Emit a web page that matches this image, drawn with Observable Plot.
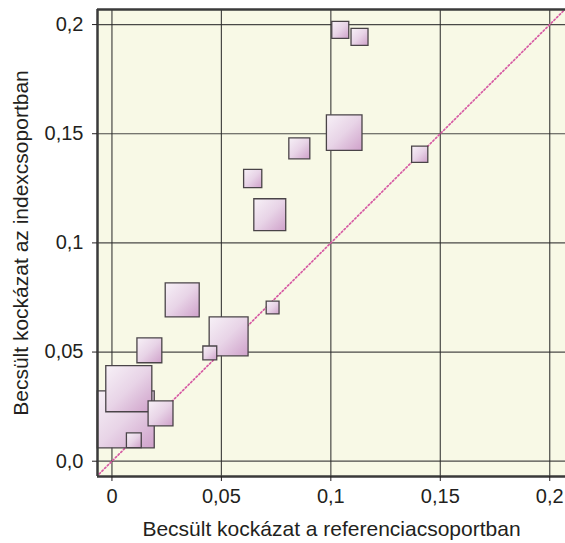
<!DOCTYPE html>
<html>
<head>
<meta charset="utf-8">
<script src="https://cdn.jsdelivr.net/npm/d3@7"></script>
<script src="https://cdn.jsdelivr.net/npm/@observablehq/plot@0.6"></script>
<style>
  html, body { margin: 0; padding: 0; background: #ffffff; }
  #chart svg { display: block; }
</style>
</head>
<body>
<div id="chart"></div>
<script>
// Estimated risk in the reference group (x) and index group (y), one value per study
const refRisk   = [0.0063, 0.0077, 0.0533, 0.1061, 0.0321, 0.0721, 0.0171, 0.0222, 0.0856, 0.0643, 0.1043, 0.1131, 0.1406, 0.0100, 0.0447, 0.0734];
const indexRisk = [0.0192, 0.0332, 0.0572, 0.1505, 0.0739, 0.1129, 0.0508, 0.0219, 0.1433, 0.1295, 0.1976, 0.1944, 0.1406, 0.0096, 0.0496, 0.0704];
// Study weights (%) -> square area
const weights   = [23.6, 15.4, 11.0, 9.2, 8.4, 7.4, 4.5, 4.5, 3.2, 2.4, 2.1, 2.1, 1.9, 1.6, 1.4, 1.2];

const xTickValues = [0, 0.05, 0.1, 0.15, 0.2];
const xTickLabels = ["0", "0,05", "0,1", "0,15", "0,2"];
const yTickValues = [0, 0.05, 0.1, 0.15, 0.2];
const yTickLabels = ["0,0", "0,05", "0,1", "0,15", "0,2"];

const xTitle = "Becsült kockázat a referenciacsoportban";
const yTitle = "Becsült kockázat az indexcsoportban";

const xDomain = [-0.0066, 0.2072];
const yDomain = [-0.0070, 0.2069];
const diagonal = [-0.0070, 0.2072]; // line of equality y = x

const studies = refRisk.map((x, i) => ({x, y: indexRisk[i], w: weights[i]}))
  .sort((a, b) => b.w - a.w);

const ink = "#231f20";

const chart = Plot.plot({
  width: 565,
  height: 543,
  marginLeft: 97,
  marginRight: 0,
  marginTop: 9,
  marginBottom: 67,
  style: {fontFamily: "'Liberation Sans', Arial, Helvetica, sans-serif", fontSize: "20px", color: ink, background: "#ffffff"},
  x: {domain: xDomain},
  y: {domain: yDomain},
  r: {type: "sqrt", domain: [0, 23.6], range: [0, 57 / Math.sqrt(Math.PI)]},
  marks: [
    Plot.frame({fill: "#f8f9e6", stroke: null}),
    Plot.gridX(xTickValues, {stroke: "#2a2a2a", strokeOpacity: 0.85, strokeWidth: 1.2}),
    Plot.gridY(yTickValues, {stroke: "#2a2a2a", strokeOpacity: 0.85, strokeWidth: 1.2}),
    Plot.line(diagonal, {x: d => d, y: d => d, stroke: "#d65aa3", strokeWidth: 1.7, strokeDasharray: "1.5,2.3", clip: true}),
    Plot.dot(studies, {
      x: "x", y: "y", r: "w", symbol: "square",
      fill: "url(#sqGrad)", fillOpacity: 1,
      stroke: "#4a4448", strokeWidth: 1.3
    }),
    Plot.ruleX([xDomain[0]], {stroke: "#3a3a3a", strokeWidth: 2.5}),
    Plot.ruleY([yDomain[0], yDomain[1]], {stroke: "#3a3a3a", strokeWidth: 2.5}),
    Plot.axisX(xTickValues, {
      tickFormat: d => xTickLabels[xTickValues.indexOf(d)],
      tickSize: 5, tickPadding: 7, fontSize: 20, label: null, color: ink
    }),
    Plot.axisY(yTickValues, {
      tickFormat: d => yTickLabels[yTickValues.indexOf(d)],
      tickSize: 5, tickPadding: 9, fontSize: 20, label: null, color: ink
    }),
    Plot.text([xTitle], {text: d => d, frameAnchor: "bottom", lineAnchor: "bottom", dy: 59, fontSize: 21, fill: ink}),
    Plot.text([yTitle], {text: d => d, frameAnchor: "left", rotate: -90, textAnchor: "middle", lineAnchor: "bottom", dx: -70, fontSize: 21, fill: ink})
  ]
});

// gradient used by the squares
const ns = "http://www.w3.org/2000/svg";
const defs = document.createElementNS(ns, "defs");
const grad = document.createElementNS(ns, "linearGradient");
grad.setAttribute("id", "sqGrad");
grad.setAttribute("x1", "0"); grad.setAttribute("y1", "0");
grad.setAttribute("x2", "1"); grad.setAttribute("y2", "1");
[["0%", "#f7f1f7"], ["50%", "#e8d4e7"], ["100%", "#cfa1ca"]].forEach(([o, c]) => {
  const s = document.createElementNS(ns, "stop");
  s.setAttribute("offset", o);
  s.setAttribute("stop-color", c);
  grad.appendChild(s);
});
defs.appendChild(grad);
chart.insertBefore(defs, chart.firstChild);

document.getElementById("chart").appendChild(chart);
</script>
</body>
</html>
